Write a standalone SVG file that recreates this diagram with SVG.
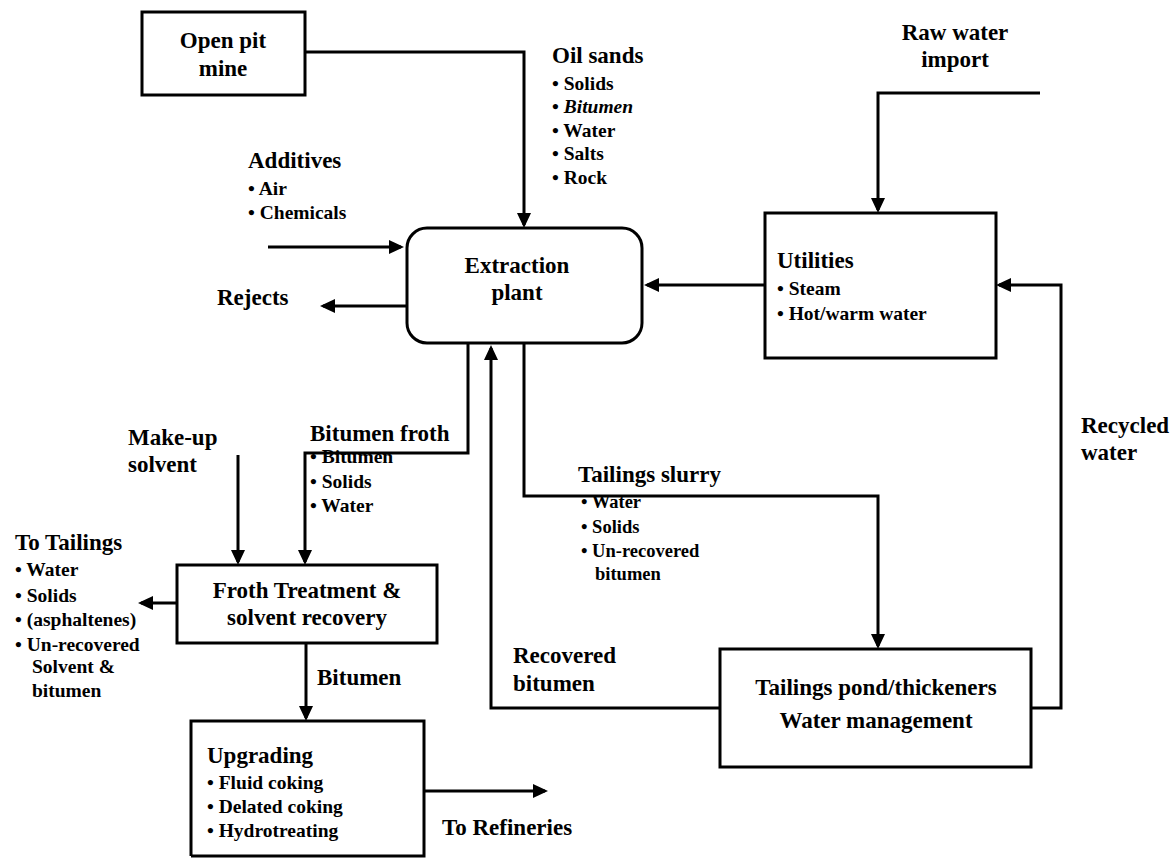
<svg xmlns="http://www.w3.org/2000/svg" width="1175" height="858" viewBox="0 0 1175 858">
<style>
text{font-family:"Liberation Serif","Times New Roman",serif;font-weight:bold;fill:#000}
.h{font-size:23px}
.b{font-size:19.5px}
.s{font-size:18.5px}
.c{text-anchor:middle}
.box{fill:#fff;stroke:#000;stroke-width:3}
.ln{fill:none;stroke:#000;stroke-width:3}
.arr{fill:none;stroke:#000;stroke-width:3;marker-end:url(#ah)}
</style>
<defs>
<marker id="ah" viewBox="0 0 15 14" refX="12" refY="7" markerWidth="15" markerHeight="14" markerUnits="userSpaceOnUse" orient="auto">
<path d="M0,0 L15,7 L0,14 z" fill="#000"/>
</marker>
</defs>
<rect width="1175" height="858" fill="#fff"/>
<g id="connectors">
<path class="arr" d="M305,52 H524 V225"/>
<path class="arr" d="M268,247 H401"/>
<path class="arr" d="M407,306 H323"/>
<path class="arr" d="M765,285 H647"/>
<path class="arr" d="M1040,93 H878 V210"/>
<path class="arr" d="M1031,708 H1061 V285 H999"/>
<path class="arr" d="M720,708 H491 V348"/>
<path class="arr" d="M524,343 V496 H878 V646"/>
<path class="arr" d="M468,343 V453 H305 V562"/>
<path class="arr" d="M238,455 V562"/>
<path class="arr" d="M177,603 H141"/>
<path class="arr" d="M306,643 V718"/>
<path class="arr" d="M424,791 H545"/>
</g>
<g id="open-pit-mine">
<rect class="box" x="142" y="12" width="163" height="83"/>
<text class="h c" x="223" y="48">Open pit</text>
<text class="h c" x="223" y="76">mine</text>
</g>
<g id="extraction-plant">
<rect class="box" x="407" y="228" width="235" height="115" rx="20"/>
<text class="h c" x="517" y="273">Extraction</text>
<text class="h c" x="517" y="300">plant</text>
</g>
<g id="utilities">
<rect class="box" x="765" y="213" width="231" height="145"/>
<text class="h" x="777" y="268">Utilities</text>
<text class="b" x="777" y="295">• Steam</text>
<text class="b" x="777" y="320">• Hot/warm water</text>
</g>
<g id="froth-treatment">
<rect class="box" x="177" y="565" width="260" height="78"/>
<text class="h c" x="307" y="598">Froth Treatment &amp;</text>
<text class="h c" x="307" y="625">solvent recovery</text>
</g>
<g id="tailings-pond">
<rect class="box" x="720" y="649" width="311" height="118"/>
<text class="h c" x="876" y="695">Tailings pond/thickeners</text>
<text class="h c" x="876" y="728">Water management</text>
</g>
<g id="upgrading">
<path class="ln" d="M191,856 V721 H424 V856 H191"/>
<text class="h" x="207" y="763">Upgrading</text>
<text class="b" x="207" y="789">•  Fluid coking</text>
<text class="b" x="207" y="813">• Delated coking</text>
<text class="b" x="207" y="837">• Hydrotreating</text>
</g>
<g id="labels">
<text class="h" x="552" y="63">Oil sands</text>
<text class="b" x="552" y="90">• Solids</text>
<text class="b" x="552" y="113">• <tspan font-style="italic">Bitumen</tspan></text>
<text class="b" x="552" y="137">• Water</text>
<text class="b" x="552" y="160">• Salts</text>
<text class="b" x="552" y="184">• Rock</text>
<text class="h c" x="955" y="40">Raw water</text>
<text class="h c" x="955" y="67">import</text>
<text class="h" x="248" y="168">Additives</text>
<text class="b" x="248" y="195">• Air</text>
<text class="b" x="248" y="219">• Chemicals</text>
<text class="h" x="217" y="305">Rejects</text>
<text class="h" x="1081" y="433">Recycled</text>
<text class="h" x="1081" y="460">water</text>
<text class="h" x="128" y="445">Make-up</text>
<text class="h" x="128" y="472">solvent</text>
<text class="h" x="310" y="441">Bitumen froth</text>
<text class="b" x="310" y="463">• Bitumen</text>
<text class="b" x="310" y="488">• Solids</text>
<text class="b" x="310" y="512">• Water</text>
<text class="h" x="578" y="482">Tailings slurry</text>
<text class="s" x="581" y="508">• Water</text>
<text class="s" x="581" y="533">• Solids</text>
<text class="s" x="581" y="557">• Un-recovered</text>
<text class="s" x="595" y="580">bitumen</text>
<text class="h" x="15" y="550">To Tailings</text>
<text class="b" x="15" y="576">• Water</text>
<text class="b" x="15" y="602">• Solids</text>
<text class="b" x="15" y="626">• (asphaltenes)</text>
<text class="b" x="15" y="651">• Un-recovered</text>
<text class="b" x="32" y="673">Solvent &amp;</text>
<text class="b" x="32" y="697">bitumen</text>
<text class="h" x="317" y="685">Bitumen</text>
<text class="h" x="513" y="663">Recovered</text>
<text class="h" x="513" y="691">bitumen</text>
<text class="h" x="442" y="835">To Refineries</text>
</g>
</svg>
